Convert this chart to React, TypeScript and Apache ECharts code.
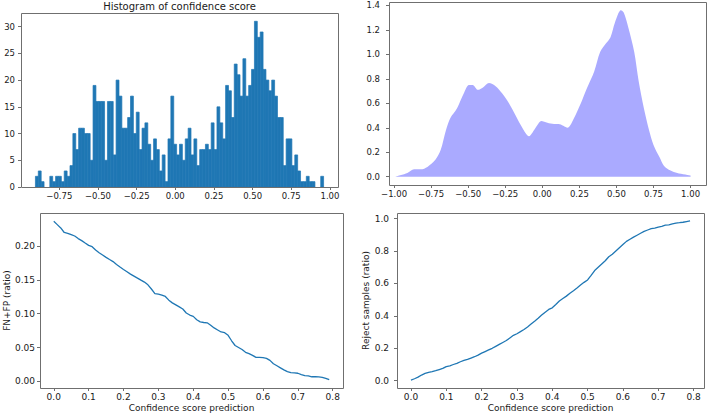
import React, { useEffect, useRef } from "react";
import * as echarts from "echarts";

// ---------- Histogram of confidence score ----------
const histStart = -0.9048;
const histBinWidth = 0.018636;
const histCounts = [
  2, 3, 1, 0, 0, 2, 1, 2, 2, 1,
  3, 2, 4, 10, 7, 11, 11, 10, 10, 5,
  19, 16, 16, 16, 5, 16, 16, 6, 20, 17,
  11, 11, 13, 17, 10, 14, 7, 11, 12, 8,
  5, 9, 7, 3, 6, 1, 9, 17, 8, 6,
  8, 5, 9, 11, 6, 9, 4, 7, 7, 8,
  7, 12, 7, 15, 12, 9, 19, 18, 13, 23,
  21, 17, 24, 17, 19, 22, 31, 28, 29, 22,
  20, 18, 20, 17, 13, 13, 4, 9, 9, 4,
  6, 3, 1, 1, 2, 1, 1, 0, 0, 2,
];
const histXTicks = [-0.75, -0.5, -0.25, 0, 0.25, 0.5, 0.75, 1.0];
const histYTicks = [0, 5, 10, 15, 20, 25, 30];

// ---------- Density ----------
const kdeX = [
  -0.99, -0.91, -0.865, -0.82, -0.775, -0.72, -0.685, -0.65, -0.62, -0.575,
  -0.53, -0.495, -0.47, -0.434, -0.4, -0.36, -0.315, -0.27, -0.225, -0.18,
  -0.135, -0.09, -0.067, -0.034, -0.007, 0.034, 0.079, 0.11, 0.17, 0.21,
  0.26, 0.3, 0.35, 0.39, 0.43, 0.46, 0.49, 0.53, 0.55, 0.58,
  0.62, 0.65, 0.685, 0.72, 0.75, 0.79, 0.82, 0.865, 0.91, 1.0,
];
const kdeY = [
  0.0, 0.03, 0.06, 0.06, 0.08, 0.14, 0.22, 0.38, 0.48, 0.56,
  0.68, 0.75, 0.75, 0.71, 0.73, 0.765, 0.74, 0.68, 0.6, 0.5,
  0.4, 0.33, 0.36, 0.42, 0.455, 0.44, 0.43, 0.43, 0.4, 0.47,
  0.6, 0.72, 0.86, 1.02, 1.09, 1.14, 1.26, 1.36, 1.34, 1.22,
  1.02, 0.78, 0.56, 0.38, 0.26, 0.16, 0.09, 0.05, 0.03, 0.01,
];
const kdeXTicks = [-1.0, -0.75, -0.5, -0.25, 0, 0.25, 0.5, 0.75, 1.0];
const kdeYTicks = [0, 0.2, 0.4, 0.6, 0.8, 1.0, 1.2, 1.4];

// ---------- Threshold curves ----------
const thresholds = [
  0.0, 0.01, 0.02, 0.03, 0.04, 0.05, 0.06, 0.07, 0.08, 0.09,
  0.1, 0.11, 0.12, 0.13, 0.14, 0.15, 0.16, 0.17, 0.18, 0.19,
  0.2, 0.21, 0.22, 0.23, 0.24, 0.25, 0.26, 0.27, 0.28, 0.29,
  0.3, 0.31, 0.32, 0.33, 0.34, 0.35, 0.36, 0.37, 0.38, 0.39,
  0.4, 0.41, 0.42, 0.43, 0.44, 0.45, 0.46, 0.47, 0.48, 0.49,
  0.5, 0.51, 0.52, 0.53, 0.54, 0.55, 0.56, 0.57, 0.58, 0.59,
  0.6, 0.61, 0.62, 0.63, 0.64, 0.65, 0.66, 0.67, 0.68, 0.69,
  0.7, 0.71, 0.72, 0.73, 0.74, 0.75, 0.76, 0.77, 0.78, 0.79,
];
const errorRatio = [
  0.2365, 0.2316, 0.2267, 0.22, 0.2188, 0.2168, 0.2148, 0.211, 0.208, 0.2044,
  0.201, 0.199, 0.194, 0.19, 0.1867, 0.1832, 0.18, 0.177, 0.1728, 0.169,
  0.1654, 0.162, 0.1585, 0.1556, 0.1526, 0.1496, 0.1467, 0.1427, 0.1365, 0.1298,
  0.129, 0.1275, 0.1255, 0.12, 0.116, 0.113, 0.11, 0.107, 0.101, 0.098,
  0.096, 0.091, 0.088, 0.087, 0.0865, 0.083, 0.079, 0.076, 0.073, 0.072,
  0.068, 0.06, 0.053, 0.05, 0.047, 0.043, 0.041, 0.0385, 0.0355, 0.0355,
  0.035, 0.034, 0.031, 0.026, 0.023, 0.02, 0.017, 0.0145, 0.013, 0.0125,
  0.012, 0.01, 0.0085, 0.008, 0.0068, 0.0068, 0.0065, 0.006, 0.0045, 0.0025,
];
const rejectRatio = [
  0.004, 0.012, 0.022, 0.035, 0.045, 0.052, 0.056, 0.062, 0.069, 0.076,
  0.087, 0.092, 0.1, 0.107, 0.117, 0.125, 0.132, 0.14, 0.148, 0.158,
  0.17, 0.18, 0.19, 0.2, 0.212, 0.224, 0.236, 0.248, 0.264, 0.28,
  0.29, 0.303, 0.316, 0.332, 0.35, 0.367, 0.385, 0.405, 0.423, 0.44,
  0.45, 0.47, 0.492, 0.507, 0.522, 0.54, 0.555, 0.572, 0.59, 0.607,
  0.622, 0.65, 0.68, 0.7, 0.72, 0.74, 0.765, 0.78, 0.8, 0.82,
  0.84, 0.86, 0.873, 0.886, 0.898, 0.91, 0.922, 0.93, 0.938, 0.942,
  0.948, 0.953, 0.96, 0.962, 0.968, 0.973, 0.975, 0.978, 0.982, 0.986,
];
const threshXTicks = [0, 0.1, 0.2, 0.3, 0.4, 0.5, 0.6, 0.7, 0.8];
const errorYTicks = [0, 0.05, 0.1, 0.15, 0.2];
const rejectYTicks = [0, 0.2, 0.4, 0.6, 0.8, 1.0];

const FONT = "DejaVu Sans";
const TXT = "#1a1a1a";
const FRAME = "#6f6f6f";
const BLUE = "#1f77b4";

// panel layout (pixels)
const PANELS = [
  { left: 21, top: 13, width: 317, height: 174 },
  { left: 389, top: 2, width: 317, height: 183 },
  { left: 40, top: 213, width: 303, height: 175 },
  { left: 397, top: 213, width: 307, height: 175 },
];

const fmt = (d: number) => (v: number) => {
  const s = Math.abs(v).toFixed(d);
  return v < -1e-9 ? "\u2212" + s : s;
};

function axis(
  gridIndex: number,
  min: number,
  max: number,
  ticks: number[],
  digits: number,
  fontSize: number,
  margin: number,
  extra: any = {}
) {
  return {
    type: "value",
    gridIndex,
    min,
    max,
    splitLine: { show: false },
    axisLine: { show: false, onZero: false },
    axisTick: {
      show: true,
      length: 3,
      lineStyle: { color: FRAME, width: 1 },
      customValues: ticks,
    },
    axisLabel: {
      customValues: ticks,
      formatter: fmt(digits),
      fontFamily: FONT,
      fontSize,
      color: TXT,
      margin,
      showMinLabel: true,
      showMaxLabel: true,
    },
    ...extra,
  };
}

export default function App() {
  const ref = useRef<HTMLDivElement>(null);

  useEffect(() => {
    if (!ref.current) return;
    const chart = echarts.init(ref.current, undefined, { renderer: "svg" });

    const histData = histCounts.map((c, i) => [
      histStart + i * histBinWidth,
      histStart + (i + 1) * histBinWidth,
      c,
    ]);
    const kdeData = kdeX.map((x, i) => [x, kdeY[i]]);
    const errData = thresholds.map((x, i) => [x, errorRatio[i]]);
    const rejData = thresholds.map((x, i) => [x, rejectRatio[i]]);

    const nameStyle = { fontFamily: FONT, fontSize: 9, color: TXT };

    chart.setOption({
      animation: false,
      graphic: [
        ...PANELS.map((p) => ({
          type: "rect",
          z: 100,
          silent: true,
          shape: { x: p.left + 0.5, y: p.top + 0.5, width: p.width, height: p.height },
          style: { fill: "none", stroke: FRAME, lineWidth: 1 },
        })),
        {
          type: "text",
          x: PANELS[0].left + PANELS[0].width / 2,
          y: 1,
          style: {
            text: "Histogram of confidence score",
            fontFamily: FONT,
            fontSize: 10,
            fill: TXT,
            textAlign: "center",
            textVerticalAlign: "top",
          },
        },
      ],
      grid: PANELS.map((p) => ({ ...p, show: false, containLabel: false })),
      xAxis: [
        axis(0, -0.998, 1.052, histXTicks, 2, 8.5, 4),
        axis(1, -1.034, 1.104, kdeXTicks, 2, 8.5, 4),
        axis(2, -0.0395, 0.8295, threshXTicks, 1, 9, 4, {
          name: "Confidence score prediction",
          nameLocation: "middle",
          nameGap: 15,
          nameTextStyle: nameStyle,
        }),
        axis(3, -0.0395, 0.8295, threshXTicks, 1, 9, 4, {
          name: "Confidence score prediction",
          nameLocation: "middle",
          nameGap: 15,
          nameTextStyle: nameStyle,
        }),
      ],
      yAxis: [
        axis(0, 0, 32.55, histYTicks, 0, 8.5, 6),
        axis(1, -0.068, 1.428, kdeYTicks, 1, 8.5, 9),
        axis(2, -0.0098, 0.2488, errorYTicks, 2, 9, 5, {
          name: "FN+FP (ratio)",
          nameLocation: "middle",
          nameGap: 29,
          nameTextStyle: nameStyle,
        }),
        axis(3, -0.045, 1.035, rejectYTicks, 1, 9, 8, {
          name: "Reject samples (ratio)",
          nameLocation: "middle",
          nameGap: 26,
          nameTextStyle: nameStyle,
        }),
      ],
      series: [
        {
          type: "custom",
          xAxisIndex: 0,
          yAxisIndex: 0,
          data: histData,
          encode: { x: [0, 1], y: 2 },
          renderItem: (params: any, api: any) => {
            const x0 = api.value(0);
            const x1 = api.value(1);
            const c = api.value(2);
            const p0 = api.coord([x0, c]);
            const p1 = api.coord([x1, 0]);
            return {
              type: "rect",
              shape: { x: p0[0], y: p0[1], width: p1[0] - p0[0], height: p1[1] - p0[1] },
              style: { fill: BLUE, stroke: c > 0 ? BLUE : "none", lineWidth: 0.7 },
            };
          },
        },
        {
          type: "line",
          xAxisIndex: 1,
          yAxisIndex: 1,
          data: kdeData,
          smooth: 0.3,
          showSymbol: false,
          lineStyle: { width: 0 },
          areaStyle: { color: "#aaaaff", opacity: 1 },
        },
        {
          type: "line",
          xAxisIndex: 2,
          yAxisIndex: 2,
          data: errData,
          showSymbol: false,
          lineStyle: { color: BLUE, width: 1.3 },
        },
        {
          type: "line",
          xAxisIndex: 3,
          yAxisIndex: 3,
          data: rejData,
          showSymbol: false,
          lineStyle: { color: BLUE, width: 1.3 },
        },
      ],
    });

    return () => chart.dispose();
  }, []);

  return (
    <div
      ref={ref}
      style={{ position: "fixed", left: 0, top: 0, width: 708, height: 414, background: "#fff" }}
    />
  );
}
